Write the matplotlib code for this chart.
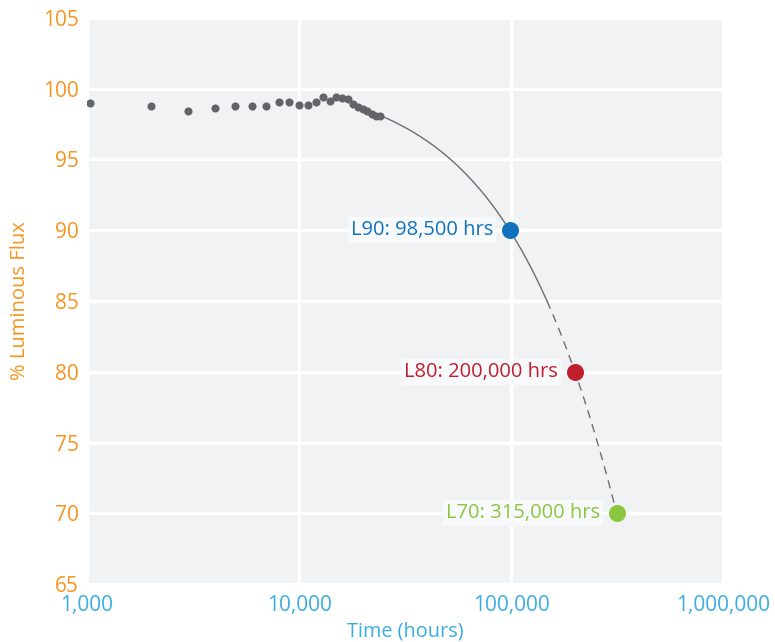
import numpy as np
import matplotlib
matplotlib.use("Agg")
import matplotlib.pyplot as plt
from matplotlib.ticker import FixedLocator, FuncFormatter

# measured lumen maintenance
hours = [1030, 2000, 3000, 4000, 5000, 6000, 7000, 8000, 9000, 10000,
         11000, 12000, 13000, 14000, 15000, 16000, 17000, 18000, 19000,
         20000, 21000, 22000, 23000, 24000]
flux = [99.0, 98.75, 98.45, 98.65, 98.78, 98.78, 98.78, 99.04, 99.04, 98.87,
        98.87, 99.06, 99.4, 99.13, 99.4, 99.35, 99.25, 98.95, 98.7,
        98.55, 98.43, 98.22, 98.1, 98.08]

# projected lifetimes
life_labels = ["L90: 98,500 hrs", "L80: 200,000 hrs", "L70: 315,000 hrs"]
life_hours = [98500, 200000, 315000]
life_flux = [90, 80, 70]
life_colors = ["#1273bd", "#c01f2e", "#8dc63f"]

y_ticks = [65, 70, 75, 80, 85, 90, 95, 100, 105]
x_ticks = [1000, 10000, 100000, 1000000]

dot_gray = "#636468"
orange = "#f7941d"
blue_txt = "#3aaee2"

plt.rcParams['font.family'] = ['Open Sans', 'DejaVu Sans']

# exponential projection through the L90 / L80 points
a = np.log(life_flux[0] / life_flux[1]) / (life_hours[1] - life_hours[0])
B = life_flux[0] * np.exp(a * life_hours[0])
t_solid = np.linspace(hours[-1], np.log(B / 85) / a, 200)
t_dash = np.linspace(t_solid[-1], life_hours[-1], 200)

fig = plt.figure(figsize=(7.75, 6.42), dpi=100)
ax = fig.add_axes([0.1123, 0.0903, 0.8207, 0.8817])
ax.set_facecolor("#f1f2f4")
ax.set_xscale("log")
ax.set_xlim(1000, 1000000)
ax.set_ylim(65, 105)

ax.xaxis.set_major_locator(FixedLocator(x_ticks))
ax.xaxis.set_minor_locator(FixedLocator([]))
ax.xaxis.set_major_formatter(FuncFormatter(lambda v, p: f"{int(v):,}"))
ax.set_yticks(y_ticks)
ax.grid(True, color="white", linewidth=2.4)
ax.set_axisbelow(True)
for s in ax.spines.values():
    s.set_visible(False)
ax.tick_params(axis="both", length=0, labelsize=15)
ax.tick_params(axis="x", colors=blue_txt, pad=8)
ax.tick_params(axis="y", colors=orange, pad=6)

ax.plot(t_solid, B * np.exp(-a * t_solid), color="#6d6e71", lw=1.0, zorder=2)
ax.plot(t_dash, B * np.exp(-a * t_dash), color="#6d6e71", lw=1.0,
        dashes=(6, 4.5), zorder=2)

ax.scatter(hours, flux, s=34, color=dot_gray, zorder=3, linewidths=0)

for lab, t, f, c in zip(life_labels, life_hours, life_flux, life_colors):
    ax.scatter([t], [f], s=150, color=c, zorder=4, linewidths=0)
    ax.annotate(lab, (t, f), xytext=(-12, 0), textcoords="offset points",
                ha="right", va="center", fontsize=14.5, color=c, zorder=5,
                bbox=dict(boxstyle="square,pad=0.15", fc="#f8f9fa", ec="none"))

ax.set_xlabel("Time (hours)", color=blue_txt, fontsize=14.3, labelpad=4)
ax.set_ylabel("% Luminous Flux", color=orange, fontsize=14.5, labelpad=9)

fig.savefig("out.png", dpi=100)
